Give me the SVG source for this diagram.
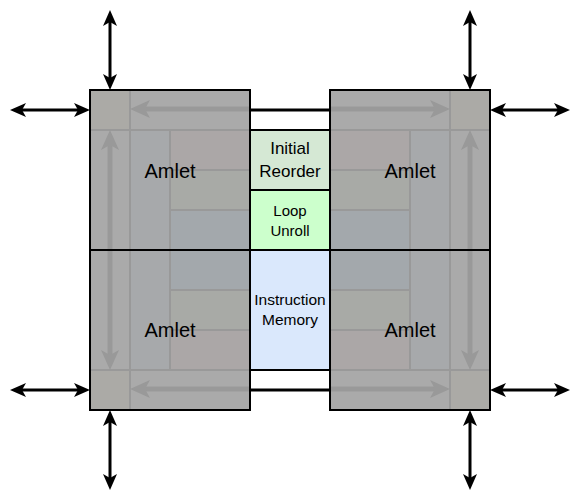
<svg xmlns="http://www.w3.org/2000/svg" width="583" height="503" viewBox="0 0 583 503">
  <style>
    .base { fill: #aaaaaa; }
    .corner { fill: #abaaa6; }
    .bcol { fill: #a7a9ab; }
    .red { fill: #aba7a7; }
    .grn { fill: #a8aaa6; }
    .blu { fill: #a3a8ac; }
    .grid { stroke: #999999; stroke-width: 2; fill: none; }
    .border { fill: none; stroke: #000000; stroke-width: 2; }
    .garrow { stroke: #999999; stroke-width: 5; fill: none; marker-start: url(#gh); marker-end: url(#gh); }
    .barrow { stroke: #000000; stroke-width: 3; fill: none; marker-start: url(#bh); marker-end: url(#bh); }
    .bar { stroke: #000000; stroke-width: 3; }
    .lbl { font-family: "Liberation Sans", Arial, sans-serif; fill: #000000; text-anchor: middle; }
    .amlet { font-size: 20px; }
  </style>
  <defs>
    <marker id="bh" viewBox="0 0 16 14" refX="4" refY="7" markerWidth="16" markerHeight="14" markerUnits="userSpaceOnUse" orient="auto-start-reverse">
      <path d="M0,0 L16,7 L0,14 L4,7 Z" fill="#000000"/>
    </marker>
    <marker id="gh" viewBox="0 0 20 18" refX="5" refY="9" markerWidth="20" markerHeight="18" markerUnits="userSpaceOnUse" orient="auto-start-reverse">
      <path d="M0,0 L20,9 L0,18 L5,9 Z" fill="#999999"/>
    </marker>
  </defs>

  <g id="amlet-tl">
    <rect class="base" x="90" y="90" width="160" height="160"/>
    <rect class="corner" x="90" y="90" width="40" height="40"/>
    <rect class="bcol" x="130" y="130" width="40" height="120"/>
    <rect class="red" x="170" y="130" width="80" height="40"/>
    <rect class="grn" x="170" y="170" width="80" height="40"/>
    <rect class="blu" x="170" y="210" width="80" height="40"/>
    <path class="grid" d="M130,90 V250 M170,130 V250 M90,130 H250 M170,170 H250 M170,210 H250"/>
  </g>
  <g id="amlet-tr">
    <rect class="base" x="330" y="90" width="160" height="160"/>
    <rect class="corner" x="450" y="90" width="40" height="40"/>
    <rect class="bcol" x="410" y="130" width="40" height="120"/>
    <rect class="red" x="330" y="130" width="80" height="40"/>
    <rect class="grn" x="330" y="170" width="80" height="40"/>
    <rect class="blu" x="330" y="210" width="80" height="40"/>
    <path class="grid" d="M450,90 V250 M410,130 V250 M330,130 H490 M330,170 H410 M330,210 H410"/>
  </g>
  <g id="amlet-bl">
    <rect class="base" x="90" y="250" width="160" height="160"/>
    <rect class="corner" x="90" y="370" width="40" height="40"/>
    <rect class="bcol" x="130" y="250" width="40" height="120"/>
    <rect class="blu" x="170" y="250" width="80" height="40"/>
    <rect class="grn" x="170" y="290" width="80" height="40"/>
    <rect class="red" x="170" y="330" width="80" height="40"/>
    <path class="grid" d="M130,250 V410 M170,250 V370 M90,370 H250 M170,290 H250 M170,330 H250"/>
  </g>
  <g id="amlet-br">
    <rect class="base" x="330" y="250" width="160" height="160"/>
    <rect class="corner" x="450" y="370" width="40" height="40"/>
    <rect class="bcol" x="410" y="250" width="40" height="120"/>
    <rect class="blu" x="330" y="250" width="80" height="40"/>
    <rect class="grn" x="330" y="290" width="80" height="40"/>
    <rect class="red" x="330" y="330" width="80" height="40"/>
    <path class="grid" d="M450,250 V410 M410,250 V370 M330,370 H490 M330,290 H410 M330,330 H410"/>
  </g>

  <g id="internal-arrows">
    <line class="garrow" x1="145" y1="109" x2="435" y2="109"/>
    <line class="garrow" x1="145" y1="389" x2="435" y2="389"/>
    <line class="garrow" x1="110" y1="145" x2="110" y2="355"/>
    <line class="garrow" x1="470" y1="145" x2="470" y2="355"/>
  </g>

  <g id="middle-gaps">
    <rect x="251" y="91" width="78" height="38" fill="#ffffff"/>
    <rect x="251" y="371" width="78" height="38" fill="#ffffff"/>
    <line class="bar" x1="250" y1="110" x2="330" y2="110"/>
    <line class="bar" x1="250" y1="390" x2="330" y2="390"/>
  </g>

  <g id="borders">
    <rect class="border" x="90" y="90" width="160" height="160"/>
    <rect class="border" x="330" y="90" width="160" height="160"/>
    <rect class="border" x="90" y="250" width="160" height="160"/>
    <rect class="border" x="330" y="250" width="160" height="160"/>
  </g>

  <g id="initial-reorder">
    <rect x="250" y="130" width="80" height="60" fill="#d5e8d4" stroke="#000000" stroke-width="2"/>
    <text class="lbl" x="290" y="154" font-size="17">Initial</text>
    <text class="lbl" x="290" y="177" font-size="17">Reorder</text>
  </g>
  <g id="loop-unroll">
    <rect x="250" y="190" width="80" height="60" fill="#ccffcc" stroke="#000000" stroke-width="2"/>
    <text class="lbl" x="290" y="216" font-size="15">Loop</text>
    <text class="lbl" x="290" y="236" font-size="15">Unroll</text>
  </g>
  <g id="instruction-memory">
    <rect x="250" y="250" width="80" height="120" fill="#dae8fc" stroke="#000000" stroke-width="2"/>
    <text class="lbl" x="290" y="305" font-size="15.5">Instruction</text>
    <text class="lbl" x="290" y="325" font-size="15.5">Memory</text>
  </g>

  <g id="amlet-labels">
    <text class="lbl amlet" x="170" y="178">Amlet</text>
    <text class="lbl amlet" x="410" y="178">Amlet</text>
    <text class="lbl amlet" x="170" y="337">Amlet</text>
    <text class="lbl amlet" x="410" y="337">Amlet</text>
  </g>

  <g id="connectors">
    <line class="barrow" x1="110" y1="22" x2="110" y2="78"/>
    <line class="barrow" x1="22" y1="110" x2="78" y2="110"/>
    <line class="barrow" x1="470" y1="22" x2="470" y2="78"/>
    <line class="barrow" x1="502" y1="110" x2="558" y2="110"/>
    <line class="barrow" x1="110" y1="422" x2="110" y2="478"/>
    <line class="barrow" x1="22" y1="390" x2="78" y2="390"/>
    <line class="barrow" x1="470" y1="422" x2="470" y2="478"/>
    <line class="barrow" x1="502" y1="390" x2="558" y2="390"/>
  </g>
</svg>
